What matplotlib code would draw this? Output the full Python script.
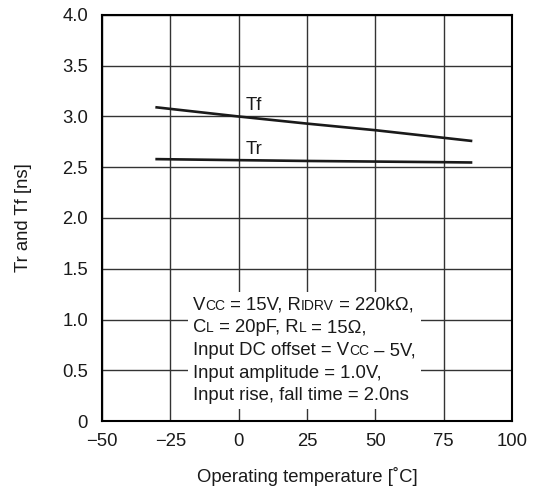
import matplotlib
matplotlib.use('Agg')
import matplotlib.pyplot as plt
from matplotlib.offsetbox import TextArea, HPacker, VPacker, AnchoredOffsetbox

plt.rcParams['font.family'] = ['Liberation Sans', 'DejaVu Sans']

# data
temp_f = [-30, 0, 25, 50, 75, 85]
tf_ns = [3.09, 3.00, 2.93, 2.865, 2.79, 2.76]
temp_r = [-30, 0, 25, 50, 75, 85]
tr_ns = [2.58, 2.57, 2.562, 2.556, 2.55, 2.547]

x_ticks = [-50, -25, 0, 25, 50, 75, 100]
x_labels = ['\u221250', '\u221225', '0', '25', '50', '75', '100']
y_ticks = [0, 0.5, 1.0, 1.5, 2.0, 2.5, 3.0, 3.5, 4.0]
y_labels = ['0', '0.5', '1.0', '1.5', '2.0', '2.5', '3.0', '3.5', '4.0']

fs = 13.3

fig = plt.figure(figsize=(5.33, 4.96), dpi=100)
ax = fig.add_axes([102 / 533, 75 / 496, 410 / 533, 406 / 496])

ax.plot(temp_f, tf_ns, color='#1a1a1a', lw=1.9)
ax.plot(temp_r, tr_ns, color='#1a1a1a', lw=1.9)
ax.text(2.5, 3.06, 'Tf', fontsize=fs, color='#1a1a1a')
ax.text(2.5, 2.635, 'Tr', fontsize=fs, color='#1a1a1a')

ax.set_xlim(-50, 100)
ax.set_ylim(0, 4.0)
ax.set_xticks(x_ticks)
ax.set_xticklabels(x_labels)
ax.set_yticks(y_ticks)
ax.set_yticklabels(y_labels)
ax.tick_params(length=0, labelsize=fs, labelcolor='#1a1a1a')
ax.tick_params(axis='x', pad=9)
ax.tick_params(axis='y', pad=10)
ax.grid(True, color='#333333', lw=1.0)
for s in ax.spines.values():
    s.set_linewidth(1.5)

ax.set_xlabel('Operating temperature [\u02daC]', fontsize=fs, color='#1a1a1a', labelpad=12)
ax.set_ylabel('Tr and Tf [ns]', fontsize=fs, color='#1a1a1a', labelpad=22)

# condition box, small caps style subscripts
big = fs
small = 10
lines = [
    [('V', big), ('CC', small), (' = 15V, R', big), ('IDRV', small), (' = 220k\u03a9,', big)],
    [('C', big), ('L', small), (' = 20pF, R', big), ('L', small), (' = 15\u03a9,', big)],
    [('Input DC offset = V', big), ('CC', small), (' \u2013 5V,', big)],
    [('Input amplitude = 1.0V,', big)],
    [('Input rise, fall time = 2.0ns', big)],
]
rows = []
for parts in lines:
    areas = [TextArea(t, textprops=dict(fontsize=sz, color='#1a1a1a')) for t, sz in parts]
    rows.append(HPacker(children=areas, align='baseline', pad=0, sep=0))
box = VPacker(children=rows, align='left', pad=0, sep=4)
anch = AnchoredOffsetbox(loc='lower left', child=box, pad=0.35, borderpad=0,
                         bbox_to_anchor=(188 / 533, 1 - 409 / 496),
                         bbox_transform=fig.transFigure, frameon=True)
anch.patch.set_facecolor('white')
anch.patch.set_edgecolor('none')
ax.add_artist(anch)

fig.savefig('out.png', dpi=100)
